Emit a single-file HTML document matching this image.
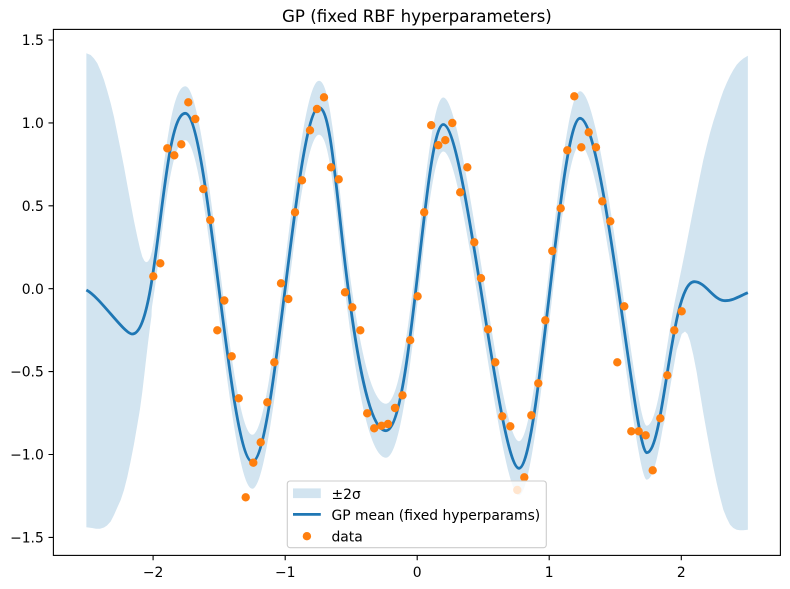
<!DOCTYPE html>
<html>
<head>
<meta charset="utf-8">
<style>
html,body{margin:0;padding:0;background:#fff;}
svg{display:block;}
</style>
</head>
<body>
<svg width="790" height="589" viewBox="0 0 790 589" xmlns="http://www.w3.org/2000/svg" font-family="'DejaVu Sans', 'Liberation Sans', sans-serif">
<rect x="0" y="0" width="790" height="589" fill="#fff"/>
<g fill="#d2e4f0">
<polygon points="86.35,53.3 90.7,55 94,58.5 97.3,63.3 100.7,71 104,80 107.3,91 110.7,103.3 114,117 117.3,133.3 120.7,150 124,166.7 127.3,185 130.7,203.3 134,221 137.3,236.7 140,248.5 142.3,256.7 144.3,260.8 146,262.3 148,261.5 150,258.3 152,251 154,240 151.5,316 150,327 148,343 146,360 144.3,375 142.3,392 140,409 137.3,425 134,444 130.7,461 127.3,477 124,490 120.7,500 117.3,507.5 114,515 110.7,521.5 107,525.5 104,527.5 100,528.7 96,528.7 92,528 86.35,527.3"/>
<polygon points="676,297 679,281 681.7,268 685,251.7 690,226 693.3,209 696.7,192.2 700,176 703.3,160 706.7,146 710,133 713.3,121.5 716.7,111 720,100.5 723.3,91 726.7,83 730,76 733.3,70 736.7,64.8 740,61.2 743.3,58.5 747.85,55.7 747.85,529.7 743.3,530.3 740,530.2 736.7,529.8 733.3,528 730,524.6 726.7,518 723.3,509.6 720,497 716.7,483 713.3,467 710,450 706.7,432 703.3,413 700,393 696.7,372.4 693.3,355 690,341 687.5,334 685,331.5 681.7,334 676.7,350 670,388 663.3,428"/>
<path d="M132.3,307C158.8,307 161.3,86.3 185.3,86.3C208.1,86.3 229.5,434.7 252.3,434.7C275,434.7 296.3,80.7 319,80.7C329,80.7 334,138 342,210C354,318 368,403.7 386,403.7C412,403.7 424.3,97.5 443.3,97.5C465.3,97.5 499,441.3 519,441.3C539.1,441.3 559.9,91.3 580,91.3C604,91.3 634.7,425.7 646.7,425.7C664.1,425.7 670.7,254.7 694.3,254.7L694.3,308.7C670.7,308.7 664.1,479.7 646.7,479.7C634.7,479.7 604,145.3 580,145.3C559.9,145.3 539.1,495.3 519,495.3C499,495.3 465.3,151.5 443.3,151.5C424.3,151.5 412,457.7 386,457.7C368,457.7 354,372 342,264C334,192 329,134.7 319,134.7C296.3,134.7 275,488.7 252.3,488.7C229.5,488.7 208.1,140.3 185.3,140.3C161.3,140.3 158.8,361 132.3,361Z"/>
</g>
<path fill="none" stroke="#1f77b4" stroke-width="2.78" stroke-linejoin="round" d="M86.35,290C100,297 124,334 132.3,334C158.8,334 161.3,113.3 185.3,113.3C208.1,113.3 229.5,461.7 252.3,461.7C275,461.7 296.3,107.7 319,107.7C329,107.7 334,165 342,237C354,345 368,430.7 386,430.7C412,430.7 424.3,124.5 443.3,124.5C465.3,124.5 499,468.3 519,468.3C539.1,468.3 559.9,118.3 580,118.3C604,118.3 634.7,452.7 646.7,452.7C664.1,452.7 670.7,281.7 694.3,281.7C705.5,281.7 713.8,300.7 725,300.7C733,300.7 739.7,296.1 747.85,292.7"/>
<path fill="none" stroke="#ff7f0e" stroke-width="8.4" stroke-linecap="round" d="M153.3 276.3h0M160.3 263.3h0M167.3 148.3h0M174.3 155.3h0M181.3 144.3h0M188.3 102.3h0M195.3 119h0M203.3 189h0M210.3 220h0M217.3 330.3h0M224.3 300.5h0M231.7 356.3h0M238.7 398.3h0M245.7 497.3h0M253.3 462.7h0M260.7 442.3h0M267.3 402.3h0M274.3 362.3h0M281 283.3h0M288.3 299h0M295 212.3h0M302 180.3h0M310 130.3h0M317 109h0M324 97.3h0M331 167.3h0M338.7 179.3h0M345 292.3h0M352.3 307.3h0M360.3 330.3h0M367.2 413.3h0M374.2 428.3h0M381.5 425.8h0M388 424h0M395 408h0M402.5 395.3h0M410.2 340.2h0M417.6 296.3h0M424.2 212.3h0M431.2 125.2h0M438.3 145.2h0M445.3 140.2h0M452.3 123h0M460.2 192.3h0M467.3 167.3h0M474.3 242.3h0M481 278.2h0M488 329.3h0M495.3 362.3h0M502.3 416.3h0M510.3 426.3h0M517.3 490h0M524.3 477.3h0M531.3 415.3h0M538.3 383.3h0M545.3 320.3h0M552.3 251h0M560.7 208.3h0M567.3 150.3h0M574.3 96.3h0M581.3 147.3h0M588.7 132.3h0M596 147.3h0M602.3 201.3h0M610.3 221.3h0M617.3 362.3h0M624.3 306.3h0M631.3 431.3h0M638.7 431.3h0M645.7 435.3h0M652.7 470.3h0M660.3 418.3h0M667.3 375.3h0M674.3 330.3h0M681.7 311.3h0"/>
<rect x="53.4" y="29.4" width="727" height="526" fill="none" stroke="#000" stroke-width="1.1"/>
<path stroke="#000" stroke-width="1.1" d="M153.1 555.4v4.9M285.2 555.4v4.9M417.2 555.4v4.9M549.2 555.4v4.9M681.3 555.4v4.9M48.5 40h4.9M48.5 122.9h4.9M48.5 205.8h4.9M48.5 288.7h4.9M48.5 371.6h4.9M48.5 454.5h4.9M48.5 537.4h4.9"/>
<g font-size="13.89" fill="#000" text-anchor="middle">
<text x="153.1" y="577">−2</text>
<text x="285.2" y="577">−1</text>
<text x="417.2" y="577">0</text>
<text x="549.2" y="577">1</text>
<text x="681.3" y="577">2</text>
</g>
<g font-size="13.89" fill="#000" text-anchor="end">
<text x="43.8" y="45.1">1.5</text>
<text x="43.8" y="128">1.0</text>
<text x="43.8" y="210.9">0.5</text>
<text x="43.8" y="293.8">0.0</text>
<text x="43.8" y="376.7">−0.5</text>
<text x="43.8" y="459.6">−1.0</text>
<text x="43.8" y="542.5">−1.5</text>
</g>
<text x="416.9" y="22" font-size="16.67" text-anchor="middle" fill="#000">GP (fixed RBF hyperparameters)</text>
<rect x="287.3" y="481" width="259" height="66.7" rx="2.8" ry="2.8" fill="#fff" fill-opacity="0.8" stroke="#ccc" stroke-width="1.1"/>
<rect x="293" y="488.4" width="27.8" height="9.7" fill="#d2e4f0"/>
<line x1="293" y1="514.4" x2="320.8" y2="514.4" stroke="#1f77b4" stroke-width="2.78"/>
<circle cx="306.9" cy="536.2" r="4.2" fill="#ff7f0e"/>
<g font-size="13.89" fill="#000">
<text x="331.5" y="499">±2σ</text>
<text x="331.5" y="520.2">GP mean (fixed hyperparams)</text>
<text x="331.5" y="541.3">data</text>
</g>
</svg>
</body>
</html>
